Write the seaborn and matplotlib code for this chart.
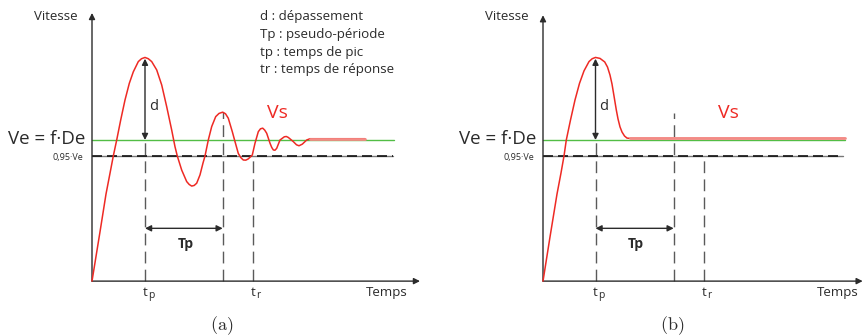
import matplotlib
matplotlib.use("Agg")
import matplotlib.pyplot as plt
import numpy as np
import pandas as pd
import seaborn as sns

# ---- data: speed response, time in arbitrary units, speed in units of Ve ----
# (a) under-damped response
t_osc = [0.0, 0.8, 1.4, 1.8, 2.13, 2.47, 2.87, 3.3, 3.73, 4.13, 4.63, 4.95,
         5.3, 5.63, 5.97, 6.47, 6.97, 7.47, 7.97, 8.3, 8.53, 8.97, 9.47, 9.72,
         9.97, 10.22, 10.47, 10.8, 11.1, 11.3, 11.63, 11.97, 12.37, 12.7,
         13.07, 13.35, 13.63, 14.03, 14.3, 14.63, 14.88, 15.13, 15.38, 15.63,
         16.03, 16.3, 16.63, 16.85, 17.07, 17.27, 17.47, 17.8, 17.97, 18.13,
         18.3, 18.47, 18.8, 19.23, 19.43, 19.63, 20.13, 20.45, 20.7, 21.03,
         21.47, 21.8, 27.3]
v_osc = [0.559, 0.713, 0.831, 0.896, 0.95, 1.0, 1.0625, 1.125, 1.177, 1.213,
         1.245, 1.254, 1.258, 1.254, 1.245, 1.219, 1.172, 1.104, 1.031, 0.979,
         0.95, 0.906, 0.870, 0.861, 0.856, 0.858, 0.865, 0.891, 0.928, 0.95,
         1.0, 1.042, 1.073, 1.083, 1.087, 1.082, 1.068, 1.026, 0.995, 0.958,
         0.945, 0.9375, 0.937, 0.941, 0.953, 0.990, 1.026, 1.035, 1.037,
         1.031, 1.021, 0.990, 0.977, 0.969, 0.968, 0.974, 1.0, 1.010, 1.011,
         1.008, 0.995, 0.985, 0.982, 0.987, 1.0, 1.004, 1.004]

# (b) single overshoot then settling
t_single = [0.0, 0.7, 1.4, 1.8, 2.1, 2.33, 2.75, 3.2, 3.65, 4.1, 4.6, 4.92,
            5.25, 5.7, 6.17, 6.45, 6.7, 6.9, 7.1, 7.33, 7.5, 7.7, 7.9, 8.15,
            8.4, 8.7, 9.7, 30.2]
v_single = [0.559, 0.697, 0.831, 0.897, 0.95, 1.0, 1.0625, 1.125, 1.177,
            1.216, 1.245, 1.254, 1.258, 1.255, 1.244, 1.228, 1.203, 1.175,
            1.1375, 1.094, 1.066, 1.041, 1.025, 1.0125, 1.006, 1.005, 1.005,
            1.005]

ve_level = 1.0           # Ve = f.De
threshold = 0.95         # 0,95.Ve
v_base = 0.559           # speed at the time origin of the axes
t_pseudo = 13.07         # first peak + one pseudo-period
t_resp = [16.13, 16.13]  # response time, (a) and (b)
t_settled = [21.8, 8.7]  # start of the settled part, (a) and (b)
line_end = 30.2

legend_lines = ["d : dépassement", "Tp : pseudo-période",
                "tp : temps de pic", "tr : temps de réponse"]
captions = ["(a)", "(b)"]

RED = "#ee2a24"
PINK = "#f38b86"
GREEN = "#52bd45"
DARK = "#2b2b2b"
GREY = "#5a5a5a"

sns.set_theme(style="white")
plt.rcParams["font.family"] = ["Open Sans", "DejaVu Sans"]
plt.rcParams["mathtext.fontset"] = "cm"
plt.rcParams["lines.scale_dashes"] = False

fig = plt.figure(figsize=(8.63, 3.36), dpi=100)
ax_a = fig.add_axes([0, 0, 0.5, 1])
ax_b = fig.add_axes([0.5, 0, 0.5, 1])

YLIM = (0.3875, 1.4375)
panels = [
    dict(ax=ax_a, t=t_osc, v=v_osc, xlim=(-9.2, 33.95), x_end=32.8, y_top=1.397,
         settled=t_settled[0], tr=t_resp[0], temps=29.5, cap=captions[0],
         cap_t=12.95, dash_end=30.1),
    dict(ax=ax_b, t=t_single, v=v_single, xlim=(-11.15, 32.0), x_end=31.97,
         y_top=1.39, settled=t_settled[1], tr=t_resp[1], temps=29.5,
         cap=captions[1], cap_t=12.93, dash_end=30.0),
]

for i, p in enumerate(panels):
    ax = p["ax"]
    t = np.array(p["t"])
    v = np.array(p["v"])
    k = int(np.argmax(v))
    t_peak, v_peak = t[k], v[k]

    # axes with arrowheads
    ax.annotate("", xy=(0, p["y_top"]), xytext=(0, v_base),
                arrowprops=dict(arrowstyle="-|>", color=DARK, lw=1.0,
                                mutation_scale=9, shrinkA=0, shrinkB=0))
    ax.annotate("", xy=(p["x_end"], v_base), xytext=(0, v_base),
                arrowprops=dict(arrowstyle="-|>", color=DARK, lw=1.0,
                                mutation_scale=9, shrinkA=0, shrinkB=0),
                annotation_clip=False)

    # reference levels
    ax.plot([0, line_end], [ve_level, ve_level], color=GREEN, lw=1.0, zorder=2)
    ax.plot([0, p["dash_end"]], [threshold, threshold], color="#777777", lw=1.0, zorder=2)
    ax.plot([0, p["dash_end"]], [threshold, threshold], color="#111111", lw=1.2,
            ls=(0, (7.2, 3.6)), zorder=2)

    # vertical markers
    vdash = dict(color=GREY, lw=1.0, ls=(0, (8.5, 4.5)), zorder=1)
    ax.plot([t_peak, t_peak], [v_base, ve_level], **vdash)
    top_pseudo = v[np.argmin(np.abs(t - t_pseudo))] if i == 0 else 1.085
    ax.plot([t_pseudo, t_pseudo], [v_base, top_pseudo], **vdash)
    ax.plot([p["tr"], p["tr"]], [v_base, threshold], **vdash)

    # response curve
    df = pd.DataFrame({"t": t, "v": v})
    sns.lineplot(data=df, x="t", y="v", ax=ax, color=RED, lw=1.1,
                 sort=False, estimator=None, zorder=3)
    tail = df[df["t"] >= p["settled"]]
    sns.lineplot(data=tail, x="t", y="v", ax=ax, color=PINK, lw=2.0,
                 sort=False, estimator=None, zorder=3)
    ax.set_xlim(*p["xlim"])
    ax.set_ylim(*YLIM)
    ax.axis("off")

    # overshoot arrow
    ax.annotate("", xy=(t_peak, v_peak - 0.004), xytext=(t_peak, ve_level),
                arrowprops=dict(arrowstyle="<|-|>", color=DARK, lw=1.0,
                                mutation_scale=9, shrinkA=0, shrinkB=0), zorder=4)
    ax.text(t_peak + 0.85, 1.105, "d", fontsize=10.5, color=DARK,
            ha="center", va="center")

    # pseudo-period arrow
    ax.annotate("", xy=(t_pseudo, 0.724), xytext=(t_peak, 0.724),
                arrowprops=dict(arrowstyle="<|-|>", color=DARK, lw=1.0,
                                mutation_scale=9, shrinkA=0, shrinkB=0))
    ax.text((t_peak + t_pseudo) / 2 + 0.15, 0.676, "Tp", fontsize=10,
            fontweight="bold", color=DARK, ha="center", va="center")

    # labels
    ax.text(-3.65, 1.385, "Vitesse", fontsize=9.5, color=DARK, ha="center", va="center")
    ax.text(p["temps"], 0.522, "Temps", fontsize=9.5, color=DARK, ha="center", va="center")
    ax.text(-0.65, 1.004, "Ve = f·De", fontsize=13.5, color=DARK, ha="right", va="center")
    ax.text(-0.9, 0.946, "0,95·Ve", fontsize=6.5, color=DARK, ha="right", va="center")
    ax.text(18.5, 1.084, "Vs", fontsize=14, color=RED, ha="center", va="center")

    for tx, sub in [(t_peak, "p"), (p["tr"], "r")]:
        ax.text(tx + 0.25, 0.5125, "t", fontsize=9.5, color=DARK, ha="right", va="baseline")
        ax.annotate(sub, xy=(tx + 0.25, 0.5125), xytext=(0.3, -1.2),
                    textcoords="offset points", fontsize=7.5, color=DARK,
                    ha="left", va="baseline")

    ax.text(p["cap_t"], 0.42, "$\\mathrm{" + p["cap"] + "}$", fontsize=13,
            color=DARK, ha="center", va="center")

for j, line in enumerate(legend_lines):
    ax_a.text(16.8, 1.3853 - j * 0.0555, line, fontsize=9.6, color=DARK,
              ha="left", va="center")

fig.savefig("out.png", dpi=100)
